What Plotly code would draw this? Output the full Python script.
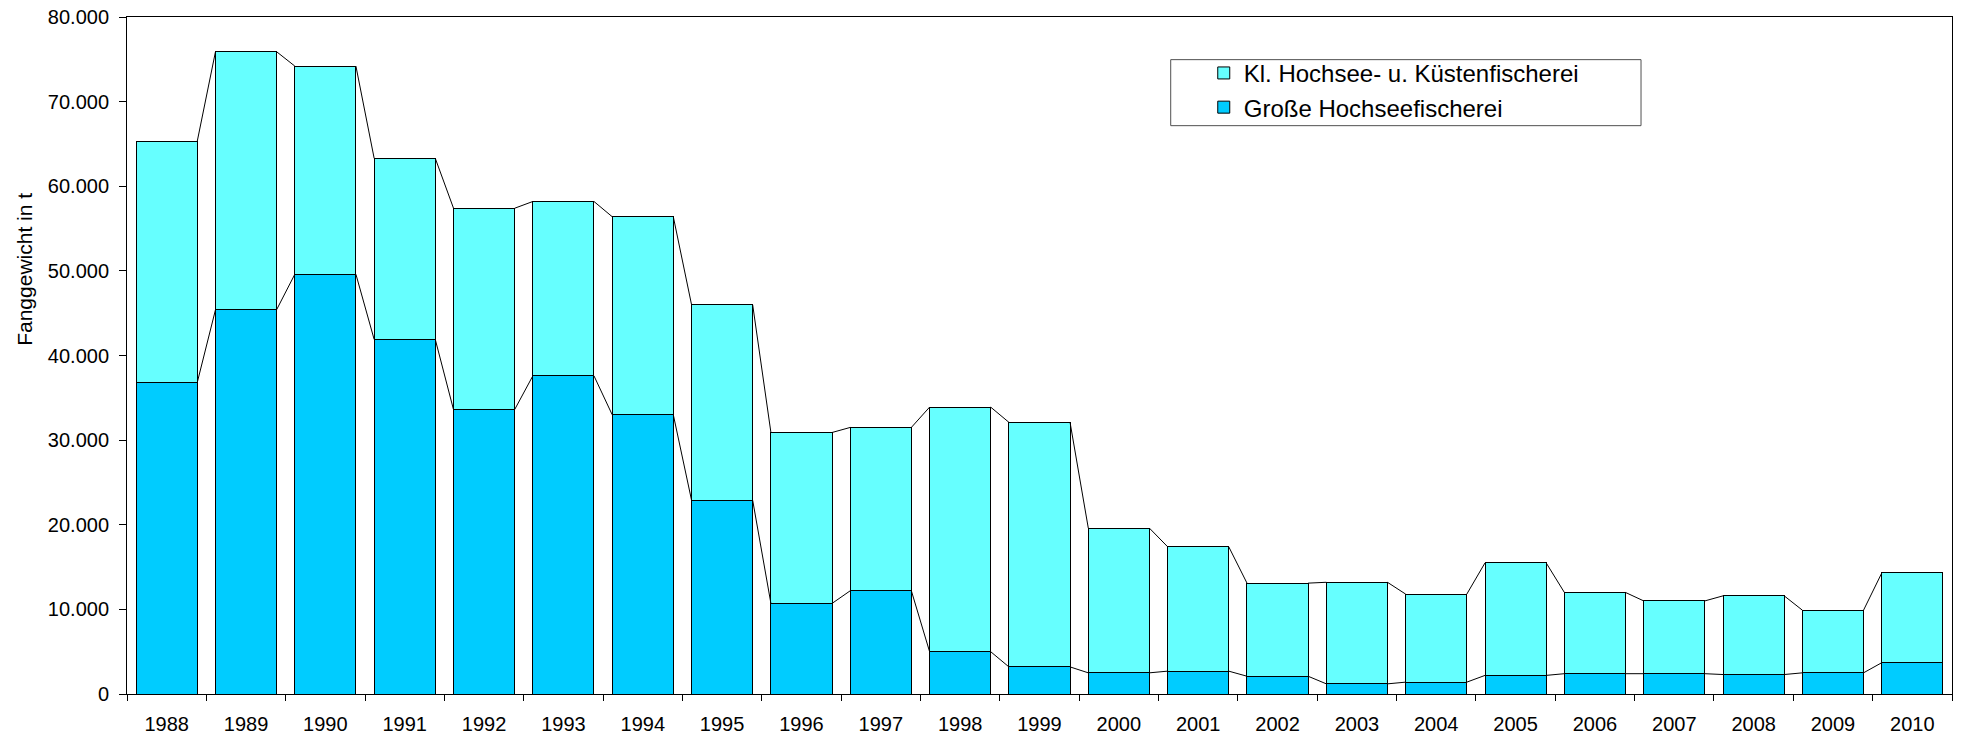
import plotly.graph_objects as go

# Fangmengen in Tonnen
years = [str(y) for y in range(1988, 2011)]
grosse_hochsee = [36800, 45400, 49600, 41900, 33600, 37600, 33000, 22900, 10700, 12200,
                  5000, 3200, 2500, 2700, 2100, 1200, 1400, 2200, 2400, 2400, 2300, 2500, 3700]
kleine_hochsee_kueste = [28500, 30500, 24600, 21400, 23800, 20600, 23400, 23100, 20200, 19300,
                         28900, 28900, 17100, 14700, 11000, 12000, 10400, 13300, 9600, 8600,
                         9300, 7400, 10600]
y_ticks = [0, 10000, 20000, 30000, 40000, 50000, 60000, 70000, 80000]

FONT = "Liberation Sans, Arial, sans-serif"
BAR_W = 0.77
pos = list(range(len(years)))

fig = go.Figure()
fig.add_trace(go.Bar(
    x=pos, y=grosse_hochsee, width=BAR_W, name="Große Hochseefischerei",
    marker=dict(color="#00CCFF", line=dict(color="black", width=1)),
))
fig.add_trace(go.Bar(
    x=pos, y=kleine_hochsee_kueste, width=BAR_W, name="Kl. Hochsee- u. Küstenfischerei",
    marker=dict(color="#66FFFF", line=dict(color="black", width=1)),
))

# Verbindungslinien zwischen den Säulenoberkanten beider Reihen
totals = [a + b for a, b in zip(grosse_hochsee, kleine_hochsee_kueste)]
for tops in (grosse_hochsee, totals):
    lx, ly = [], []
    for i in range(len(tops) - 1):
        lx += [i + BAR_W / 2, i + 1 - BAR_W / 2, None]
        ly += [tops[i], tops[i + 1], None]
    fig.add_trace(go.Scatter(x=lx, y=ly, mode="lines", xaxis="x2",
                             line=dict(color="black", width=1),
                             showlegend=False, hoverinfo="skip"))

xr = [-0.5, len(years) - 0.5]
fig.update_layout(
    width=1962, height=738,
    margin=dict(l=127, r=10, t=17, b=44),
    paper_bgcolor="white", plot_bgcolor="white",
    barmode="stack",
    separators=",.",
    font=dict(family=FONT, size=20, color="black"),
    showlegend=True,
    legend=dict(
        x=0.590, y=0.950, xanchor="left", yanchor="top",
        traceorder="reversed", bgcolor="rgba(0,0,0,0)", borderwidth=0,
        font=dict(family=FONT, size=24, color="black"),
        tracegroupgap=0,
    ),
    xaxis=dict(
        range=xr, tickmode="array",
        tickvals=[i - 0.5 for i in range(len(years) + 1)],
        ticktext=["" for _ in range(len(years) + 1)],
        ticks="outside", ticklen=6, tickcolor="black", tickwidth=1,
        showline=True, linecolor="black", linewidth=1, mirror=True,
        showgrid=False, zeroline=False, automargin=False,
    ),
    xaxis2=dict(
        range=xr, overlaying="x", anchor="y", side="bottom",
        tickmode="array", tickvals=pos, ticktext=years, ticks="",
        ticklabelstandoff=16,
        showline=False, showgrid=False, zeroline=False, automargin=False,
        tickfont=dict(family=FONT, size=20, color="black"),
    ),
    yaxis=dict(
        range=[0, 80000], tickmode="array", tickvals=y_ticks,
        tickformat=",d",
        ticks="outside", ticklen=7, tickcolor="black", tickwidth=1,
        ticklabelstandoff=6,
        showline=True, linecolor="black", linewidth=1, mirror=True,
        showgrid=False, zeroline=False, automargin=False,
        tickfont=dict(family=FONT, size=20, color="black"),
    ),
    shapes=[dict(
        type="rect", xref="paper", yref="paper",
        x0=0.5719, x1=0.8296, y0=0.8395, y1=0.9370,
        line=dict(color="#505050", width=1), fillcolor="rgba(0,0,0,0)",
    )],
    annotations=[dict(
        text="Fanggewicht in t", textangle=-90,
        xref="paper", yref="paper", x=-0.0559, y=0.628,
        xanchor="center", yanchor="middle", showarrow=False,
        font=dict(family=FONT, size=21, color="black"),
    )],
)

fig.write_html("out.html")
